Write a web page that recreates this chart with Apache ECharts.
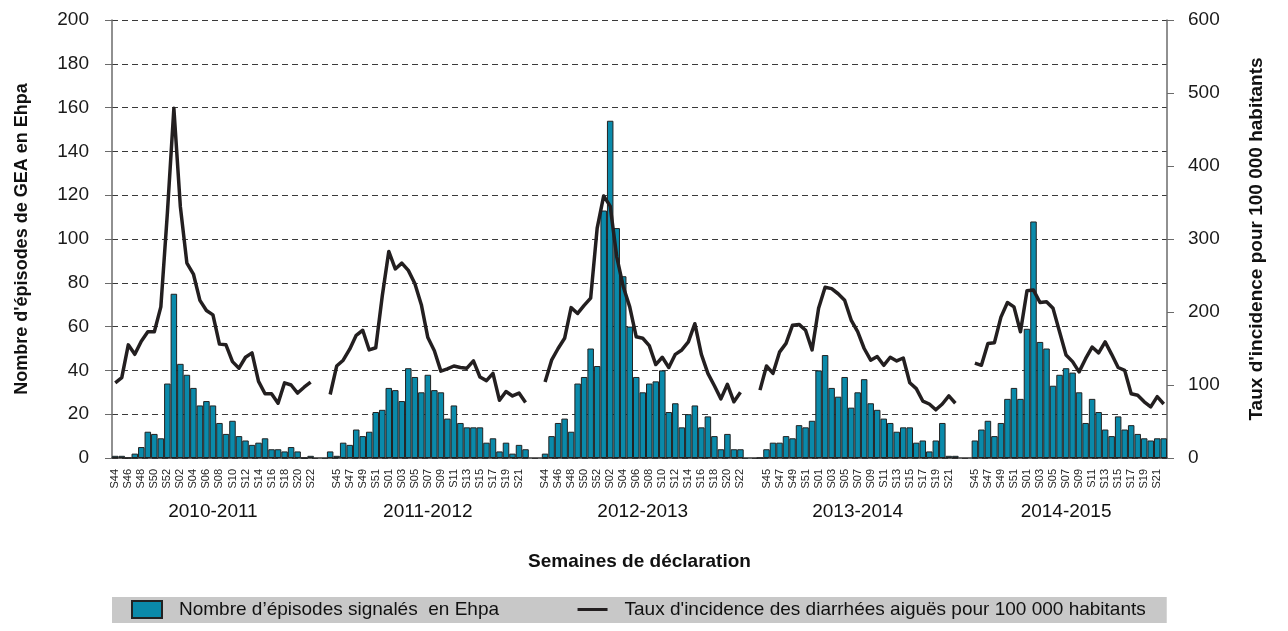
<!DOCTYPE html>
<html>
<head>
<meta charset="utf-8">
<script src="https://cdn.jsdelivr.net/npm/echarts@6/dist/echarts.min.js"></script>
<style>
  html, body { margin: 0; padding: 0; background: #fff; }
  #chart { width: 1288px; height: 631px; }
</style>
</head>
<body>
<div id="chart"></div>
<script>
// Semaines par saison (S44..S22, la dernière saison commence en S45)
const weeksFull = ["S44","S45","S46","S47","S48","S49","S50","S51","S52",
  "S01","S02","S03","S04","S05","S06","S07","S08","S09","S10","S11","S12",
  "S13","S14","S15","S16","S17","S18","S19","S20","S21","S22"];
const weeksLast = weeksFull.slice(1);
const seasons = ["2010-2011", "2011-2012", "2012-2013", "2013-2014", "2014-2015"];

// Nombre d'épisodes signalés en Ehpa
const episodes2010 = [1,1,0,2,5,12,11,9,34,75,43,38,32,24,26,24,16,11,17,10,8,6,7,9,4,4,3,5,3,0,1];
const episodes2011 = [3,1,7,6,13,10,12,21,22,32,31,26,41,37,30,38,31,30,18,24,16,14,14,14,7,9,3,7,2,6,4];
const episodes2012 = [2,10,16,18,12,34,37,50,42,113,154,105,83,60,37,30,34,35,40,21,25,14,20,24,14,19,10,4,11,4,4];
const episodes2013 = [0,4,7,7,10,9,15,14,17,40,47,32,28,37,23,30,36,25,22,18,16,12,14,14,7,8,3,8,16,1,1];
const episodes2014 = [8,13,17,10,16,27,32,27,59,108,53,50,33,38,41,39,30,16,27,21,13,10,19,13,15,11,9,8,9,9];

// Taux d'incidence des diarrhées aiguës pour 100 000 habitants
const rate2010 = [103,110,155,142,160,173,173,207,335,479,344,267,252,216,202,196,156,155,132,123,138,144,105,88,88,75,103,100,89,97,104];
const rate2011 = [87,126,134,149,168,175,148,151,222,283,259,267,257,239,210,165,147,119,122,126,124,123,133,111,106,116,79,91,85,89,76];
const rate2012 = [104,134,150,164,206,198,209,219,315,359,345,276,235,207,166,164,154,128,138,124,142,148,159,184,142,116,99,81,101,77,90];
const rate2013 = [93,126,116,145,157,182,183,175,148,205,234,232,225,216,189,173,150,134,139,127,138,133,137,103,95,78,74,66,74,85,75];
const rate2014 = [130,127,157,158,193,213,207,173,229,230,213,214,205,173,141,132,118,136,152,144,159,142,124,120,88,86,77,70,84,74];

const GAP = 2;
const seasonWeeks = [weeksFull, weeksFull, weeksFull, weeksFull, weeksLast];
const seasonEpisodes = [episodes2010, episodes2011, episodes2012, episodes2013, episodes2014];
const seasonRates = [rate2010, rate2011, rate2012, rate2013, rate2014];

// Axe catégoriel unique avec deux semaines vides entre saisons
let categories = [], barData = [], lineData = [], seasonAxis = [];
seasonWeeks.forEach((w, s) => {
  if (s > 0) {
    for (let g = 0; g < GAP; g++) {
      categories.push(""); barData.push(null); lineData.push(null); seasonAxis.push("");
    }
  }
  const start = categories.length;
  categories = categories.concat(w);
  barData = barData.concat(seasonEpisodes[s]);
  lineData = lineData.concat(seasonRates[s]);
  w.forEach(() => seasonAxis.push(""));
  seasonAxis[start + Math.floor((w.length - 1) / 2)] = seasons[s];
});

const FONT = "'Liberation Sans', Arial, Helvetica, sans-serif";
const barName = "Nombre d\u2019épisodes signalés  en Ehpa";
const lineName = "Taux d'incidence des diarrhées aiguës pour 100 000 habitants";

const chart = echarts.init(document.getElementById("chart"), null, { renderer: "canvas" });

chart.setOption({
  animation: false,
  textStyle: { fontFamily: FONT },
  grid: { left: 112, right: 121, top: 20, bottom: 173 },
  legend: {
    left: 112, top: 597,
    padding: [3, 21, 4, 19],
    backgroundColor: "#c8c8c8",
    itemWidth: 30, itemHeight: 17, itemGap: 77,
    selectedMode: false,
    textStyle: { fontSize: 19, color: "#111", fontFamily: FONT, padding: [0, 0, 0, 12] },
    data: [
      { name: barName, icon: "rect" },
      { name: lineName, itemStyle: { opacity: 0 }, lineStyle: { width: 3 } }
    ]
  },
  xAxis: [{
    type: "category",
    data: categories,
    position: "bottom",
    name: "Semaines de déclaration",
    nameLocation: "middle",
    nameGap: 94,
    nameTextStyle: { fontSize: 19, fontWeight: "bold", color: "#111", fontFamily: FONT },
    axisLine: { lineStyle: { color: "#333", width: 1.5 } },
    axisTick: { show: false },
    axisLabel: { interval: 1, rotate: 90, margin: 11, fontSize: 11, color: "#222", fontFamily: FONT }
  }, {
    type: "category",
    data: seasonAxis,
    position: "bottom",
    axisLine: { show: false },
    axisTick: { show: false },
    axisLabel: { interval: 0, margin: 44, fontSize: 19, color: "#111", fontFamily: FONT }
  }],
  yAxis: [{
    type: "value",
    min: 0, max: 200, interval: 20,
    name: "Nombre d'épisodes de GEA en Ehpa",
    nameLocation: "middle",
    nameGap: 81,
    nameTextStyle: { fontSize: 18, fontWeight: "bold", color: "#111", fontFamily: FONT },
    axisLine: { show: true, lineStyle: { color: "#6b6b6b", width: 1.5 } },
    axisTick: { show: true, length: 7, lineStyle: { color: "#6b6b6b" } },
    axisLabel: { margin: 23, fontSize: 19, color: "#1a1a1a", fontFamily: FONT },
    splitLine: { lineStyle: { color: "#3a3a3a", type: [6, 4], width: 1 } }
  }, {
    type: "value",
    min: 0, max: 600, interval: 100,
    name: "Taux d'incidence pour 100 000 habitants",
    nameLocation: "middle",
    nameGap: 80,
    nameTextStyle: { fontSize: 19, fontWeight: "bold", color: "#111", fontFamily: FONT },
    axisLine: { show: true, lineStyle: { color: "#6b6b6b", width: 1.5 } },
    axisTick: { show: true, length: 7, lineStyle: { color: "#6b6b6b" } },
    axisLabel: { margin: 21, fontSize: 19, color: "#1a1a1a", fontFamily: FONT },
    splitLine: { show: false }
  }],
  series: [{
    name: barName,
    type: "bar",
    xAxisIndex: 0,
    yAxisIndex: 0,
    barCategoryGap: "0%",
    itemStyle: { color: "#0a8aaa", borderColor: "#222", borderWidth: 1 },
    data: barData
  }, {
    name: lineName,
    type: "line",
    xAxisIndex: 0,
    yAxisIndex: 1,
    symbol: "none",
    connectNulls: false,
    lineStyle: { color: "#231f20", width: 3.5, join: "round" },
    itemStyle: { color: "#231f20" },
    data: lineData
  }]
});
</script>
</body>
</html>
